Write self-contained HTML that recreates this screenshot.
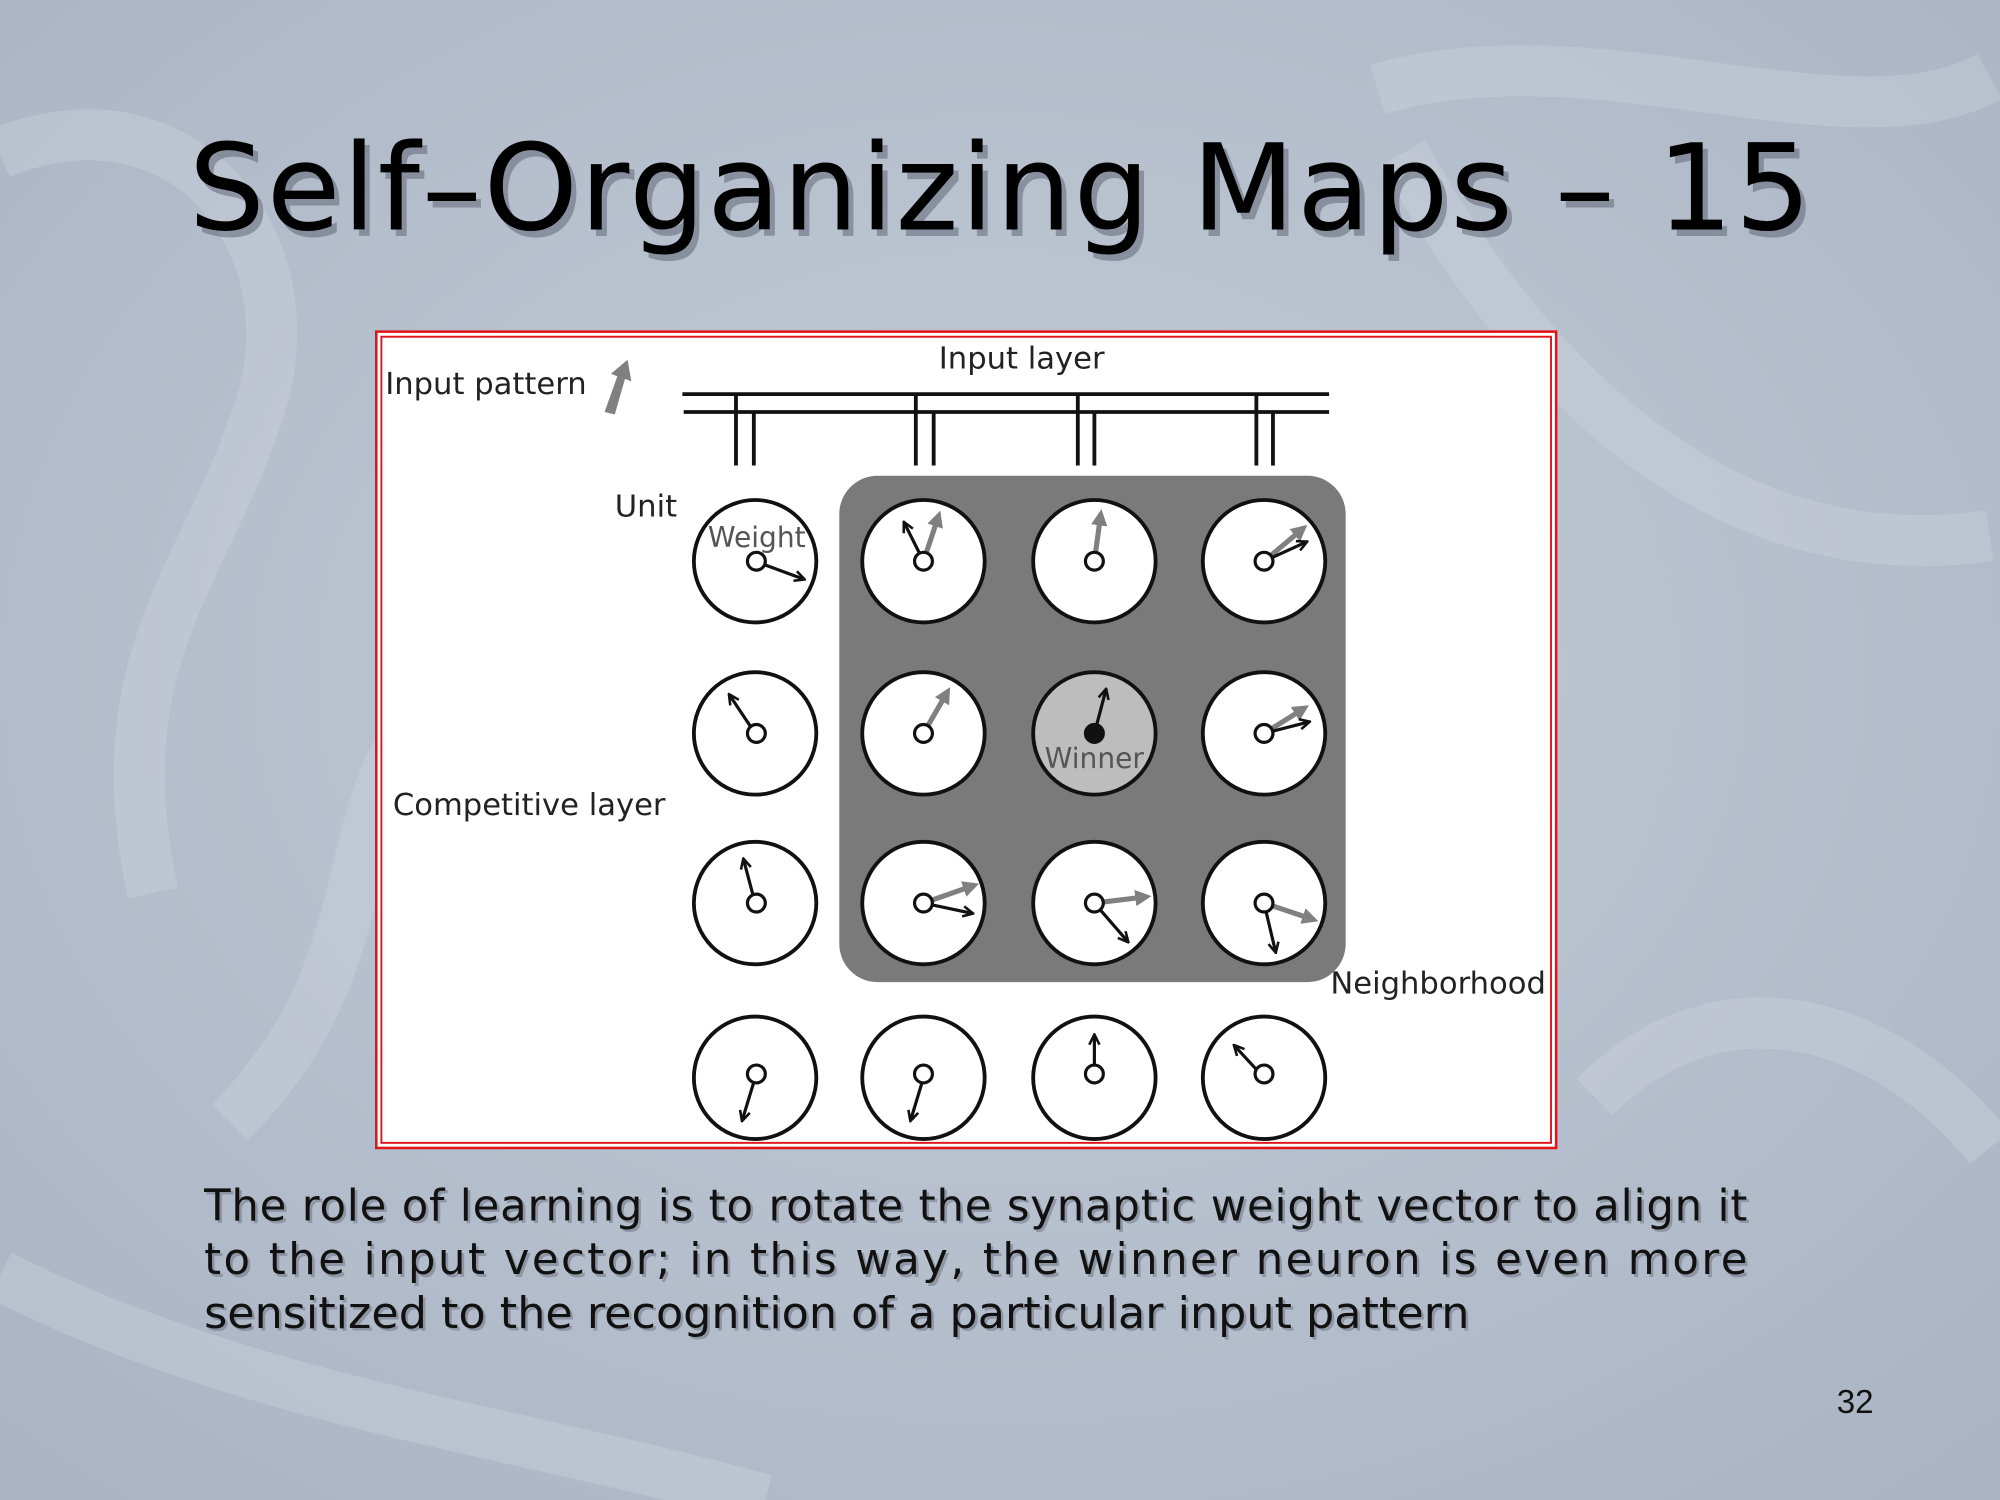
<!DOCTYPE html>
<html><head><meta charset="utf-8">
<style>
html,body{margin:0;padding:0;width:2000px;height:1500px;overflow:hidden;background:#b8c1cf;}
svg{display:block}
</style></head>
<body>
<svg width="2000" height="1500" viewBox="0 0 1568 1176" xmlns="http://www.w3.org/2000/svg">
<defs>
<radialGradient id="bg" cx="50%" cy="45%" r="75%">
<stop offset="0" stop-color="#c4ccd8"/><stop offset="1" stop-color="#a9b3c2"/>
</radialGradient>
<marker id="ab" viewBox="0 0 10 10" refX="8" refY="5" markerWidth="4" markerHeight="4" orient="auto"><path d="M1,1 L9,5 L1,9" fill="none" stroke="#111" stroke-width="2"/></marker>
<marker id="ag" viewBox="0 0 10 10" refX="7" refY="5" markerWidth="3.2" markerHeight="3.2" orient="auto"><path d="M0,0 L10,5 L0,10 Z" fill="#808080"/></marker>
</defs>
<rect width="1568" height="1176" fill="url(#bg)"/>
<g fill="none" stroke="#d6dce5" stroke-opacity="0.3" stroke-width="40">
<path d="M0,120 C150,60 250,200 200,330 C160,450 80,520 120,700"/>
<path d="M1080,70 C1250,20 1450,120 1560,60"/>
<path d="M1100,120 C1200,300 1350,450 1560,420"/>
<path d="M180,880 C300,760 260,650 330,560"/>
<path d="M1250,860 C1350,760 1480,800 1560,900"/>
<path d="M0,1000 C200,1100 400,1120 600,1176"/>
</g>
<text x="148" y="180" font-family="'DejaVu Sans','Liberation Sans',sans-serif" font-size="94" fill="#5a6070" opacity="0.5" transform="translate(4,5)" textLength="1272">Self–Organizing Maps – 15</text>
<text x="148" y="180" font-family="'DejaVu Sans','Liberation Sans',sans-serif" font-size="94" fill="#000" textLength="1272">Self–Organizing Maps – 15</text>

<rect x="295" y="260" width="925" height="640" fill="#fff" stroke="#e0141a" stroke-width="2"/>
<rect x="299" y="264" width="917" height="632" fill="none" stroke="#e0141a" stroke-width="1.5"/>

<g font-family="'DejaVu Sans','Liberation Sans',sans-serif" font-size="24" fill="#222">
<text x="736" y="289">Input layer</text>
<text x="302" y="309">Input pattern</text>
<text x="482" y="405">Unit</text>
<text x="308" y="639">Competitive layer</text>
<text x="1043" y="779">Neighborhood</text>
</g>
<path d="M474,323 L484,295 L479,293 L492,282 L495,299 L490,297 L482,325 Z" fill="#808080"/>

<g stroke="#111" stroke-width="3" fill="none">
<line x1="535" y1="309" x2="1042" y2="309"/>
<line x1="536" y1="323" x2="1042" y2="323"/>
<line x1="577" y1="309" x2="577" y2="365"/><line x1="591" y1="323" x2="591" y2="365"/>
<line x1="718" y1="309" x2="718" y2="365"/><line x1="732" y1="323" x2="732" y2="365"/>
<line x1="845" y1="309" x2="845" y2="365"/><line x1="858" y1="323" x2="858" y2="365"/>
<line x1="985" y1="309" x2="985" y2="365"/><line x1="998" y1="323" x2="998" y2="365"/>
</g>
<rect x="658" y="373" width="397" height="397" rx="30" fill="#7a7a7a"/>

<g stroke="#111" stroke-width="3">
<circle cx="592" cy="440" r="48" fill="#fff"/><circle cx="724" cy="440" r="48" fill="#fff"/><circle cx="858" cy="440" r="48" fill="#fff"/><circle cx="991" cy="440" r="48" fill="#fff"/>
<circle cx="592" cy="575" r="48" fill="#fff"/><circle cx="724" cy="575" r="48" fill="#fff"/><circle cx="858" cy="575" r="48" fill="#bdbdbd"/><circle cx="991" cy="575" r="48" fill="#fff"/>
<circle cx="592" cy="708" r="48" fill="#fff"/><circle cx="724" cy="708" r="48" fill="#fff"/><circle cx="858" cy="708" r="48" fill="#fff"/><circle cx="991" cy="708" r="48" fill="#fff"/>
<circle cx="592" cy="845" r="48" fill="#fff"/><circle cx="724" cy="845" r="48" fill="#fff"/><circle cx="858" cy="845" r="48" fill="#fff"/><circle cx="991" cy="845" r="48" fill="#fff"/>
</g>
<text x="555" y="429" font-family="'DejaVu Sans',sans-serif" font-size="22" fill="#555">Weight</text>
<text x="819" y="602" font-family="'DejaVu Sans',sans-serif" font-size="22" fill="#555">Winner</text>

<g stroke="#808080" stroke-width="4" marker-end="url(#ag)" fill="none">
<line x1="724" y1="440" x2="736" y2="404"/>
<line x1="858" y1="440" x2="863" y2="403"/>
<line x1="991" y1="440" x2="1022" y2="414"/>
<line x1="724" y1="575" x2="743" y2="542"/>
<line x1="991" y1="575" x2="1023" y2="555"/>
<line x1="724" y1="708" x2="764" y2="694"/>
<line x1="858" y1="708" x2="899" y2="703"/>
<line x1="991" y1="708" x2="1030" y2="721"/>
</g>
<g stroke="#111" stroke-width="2.5" marker-end="url(#ab)" fill="none">
<line x1="592" y1="440" x2="630" y2="454"/>
<line x1="724" y1="440" x2="709" y2="410"/>
<line x1="991" y1="440" x2="1024" y2="425"/>
<line x1="592" y1="575" x2="572" y2="545"/>
<line x1="858" y1="575" x2="867" y2="541"/>
<line x1="991" y1="575" x2="1026" y2="566"/>
<line x1="592" y1="708" x2="583" y2="674"/>
<line x1="724" y1="708" x2="762" y2="716"/>
<line x1="858" y1="708" x2="884" y2="738"/>
<line x1="991" y1="708" x2="1000" y2="746"/>
<line x1="592" y1="845" x2="582" y2="878"/>
<line x1="724" y1="845" x2="714" y2="878"/>
<line x1="858" y1="845" x2="858" y2="812"/>
<line x1="991" y1="845" x2="968" y2="820"/>
</g>
<g stroke="#111" stroke-width="2.5" fill="#fff">
<circle cx="593" cy="440" r="7"/><circle cx="724" cy="440" r="7"/><circle cx="858" cy="440" r="7"/><circle cx="991" cy="440" r="7"/>
<circle cx="593" cy="575" r="7"/><circle cx="724" cy="575" r="7"/><circle cx="858" cy="575" r="7" fill="#111"/><circle cx="991" cy="575" r="7"/>
<circle cx="593" cy="708" r="7"/><circle cx="724" cy="708" r="7"/><circle cx="858" cy="708" r="7"/><circle cx="991" cy="708" r="7"/>
<circle cx="593" cy="842" r="7"/><circle cx="724" cy="842" r="7"/><circle cx="858" cy="842" r="7"/><circle cx="991" cy="842" r="7"/>
</g>

<g font-family="'DejaVu Sans','Liberation Sans',sans-serif" font-size="34" fill="#6a7080" opacity="0.5" transform="translate(2,2)">
<text x="160" y="957" textLength="1210" lengthAdjust="spacing">The role of learning is to rotate the synaptic weight vector to align it</text>
<text x="160" y="999" textLength="1210" lengthAdjust="spacing">to the input vector; in this way, the winner neuron is even more</text>
<text x="160" y="1041" textLength="992" lengthAdjust="spacingAndGlyphs">sensitized to the recognition of a particular input pattern</text>
</g>
<g font-family="'DejaVu Sans','Liberation Sans',sans-serif" font-size="34" fill="#111">
<text x="160" y="957" textLength="1210" lengthAdjust="spacing">The role of learning is to rotate the synaptic weight vector to align it</text>
<text x="160" y="999" textLength="1210" lengthAdjust="spacing">to the input vector; in this way, the winner neuron is even more</text>
<text x="160" y="1041" textLength="992" lengthAdjust="spacingAndGlyphs">sensitized to the recognition of a particular input pattern</text>
</g>
<text x="1440" y="1108" font-family="'Liberation Sans',sans-serif" font-size="26" fill="#111">32</text>
</svg>
</body></html>
